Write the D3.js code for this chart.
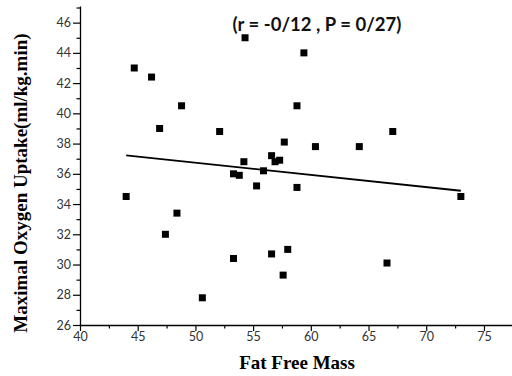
<!DOCTYPE html>
<html>
<head>
<meta charset="utf-8">
<script src="https://cdn.jsdelivr.net/npm/d3@7"></script>
<style>
  body { margin: 0; background: #fff; }
  svg { display: block; }
  .tick text { font-family: Lato, "Open Sans", sans-serif; font-size: 12.5px; fill: #333; }
</style>
</head>
<body>
<svg width="512" height="376"></svg>
<script>
"use strict";

// fat free mass (kg) per subject
var fatFreeMass = [44.0, 44.7, 46.2, 46.9, 47.4, 48.4, 48.8, 50.6, 52.1, 53.3,
                   53.3, 53.8, 54.2, 54.3, 55.3, 55.9, 56.6, 56.6, 56.9, 57.3,
                   57.6, 57.7, 58.0, 58.8, 58.8, 59.4, 60.4, 64.2, 66.6, 67.1, 73.0];
// maximal oxygen uptake (ml/kg.min)
var vo2max = [34.5, 43.0, 42.4, 39.0, 32.0, 33.4, 40.5, 27.8, 38.8, 36.0,
              30.4, 35.9, 36.8, 45.0, 35.2, 36.2, 37.2, 30.7, 36.8, 36.9,
              29.3, 38.1, 31.0, 35.1, 40.5, 44.0, 37.8, 37.8, 30.1, 38.8, 34.5];

// fitted line end points
var fitX = [44.0, 73.0];
var fitY = [37.22, 34.88];

var xTicks = [40, 45, 50, 55, 60, 65, 70, 75];
var yTicks = [26, 28, 30, 32, 34, 36, 38, 40, 42, 44, 46];
var title = "(r = -0/12 , P = 0/27)";

var svg = d3.select("svg");

var x = d3.scaleLinear().domain([40, 77.5]).range([80, 512.8]);
var y = d3.scaleLinear().domain([26, 47.1]).range([325, 6]);

// minor ticks first so major ones draw on top
svg.append("g")
   .attr("transform", "translate(0,325)")
   .call(d3.axisBottom(x).tickValues(d3.range(42.5, 77.6, 5)).tickSize(3.5).tickFormat(""))
   .call(function(g){ g.select(".domain").remove(); });
svg.append("g")
   .attr("transform", "translate(80,0)")
   .call(d3.axisLeft(y).tickValues(d3.range(27, 47.1, 2)).tickSize(3.5).tickFormat(""))
   .call(function(g){ g.select(".domain").remove(); });

svg.append("g")
   .attr("transform", "translate(0,325)")
   .call(d3.axisBottom(x).tickValues(xTicks).tickSize(6).tickSizeOuter(0).tickPadding(1));
svg.append("g")
   .attr("transform", "translate(80,0)")
   .call(d3.axisLeft(y).tickValues(yTicks).tickSize(7).tickSizeOuter(0).tickPadding(2));

svg.selectAll(".domain").attr("stroke", "#000").attr("stroke-width", 1.3);
svg.selectAll(".tick line").attr("stroke", "#000").attr("stroke-width", 1.2);

// regression line
var line = d3.line()
   .x(function(d){ return x(d[0]); })
   .y(function(d){ return y(d[1]); });
svg.append("path")
   .datum(d3.zip(fitX, fitY))
   .attr("d", line)
   .attr("fill", "none")
   .attr("stroke", "#000")
   .attr("stroke-width", 1.8);

// points
var size = 7;
svg.append("g")
  .selectAll("rect").data(d3.zip(fatFreeMass, vo2max)).enter()
  .append("rect")
    .attr("x", function(d){ return x(d[0]) - size / 2; })
    .attr("y", function(d){ return y(d[1]) - size / 2; })
    .attr("width", size)
    .attr("height", size)
    .attr("fill", "#000");

svg.append("text")
   .attr("x", 317)
   .attr("y", 31)
   .attr("text-anchor", "middle")
   .style("font-family", "Lato, 'Open Sans', sans-serif")
   .style("font-weight", "bold")
   .style("font-size", "18.5px")
   .attr("fill", "#111")
   .text(title);

svg.append("text")
   .attr("x", 297)
   .attr("y", 369)
   .attr("text-anchor", "middle")
   .style("font-family", "'Liberation Serif', 'Times New Roman', serif")
   .style("font-weight", "bold")
   .style("font-size", "19px")
   .text("Fat Free Mass");

svg.append("text")
   .attr("transform", "translate(27,183) rotate(-90)")
   .attr("text-anchor", "middle")
   .style("font-family", "'Liberation Serif', 'Times New Roman', serif")
   .style("font-weight", "bold")
   .style("font-size", "19px")
   .text("Maximal Oxygen Uptake(ml/kg.min)");
</script>
</body>
</html>
